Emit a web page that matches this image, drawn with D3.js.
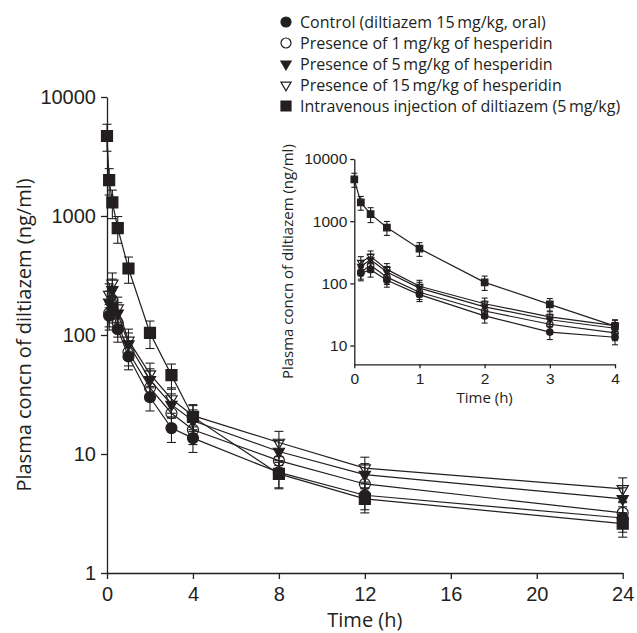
<!DOCTYPE html>
<html>
<head>
<meta charset="utf-8">
<script src="https://cdn.jsdelivr.net/npm/d3@7"></script>
<style>
  body { margin: 0; background: #fff; }
  svg { display: block; font-family: "Open Sans", sans-serif; }
</style>
</head>
<body>
<script>
const WIDTH = 637;
const HEIGHT = 633;

// sampling times (h)
const oralTimes = [0.1, 0.25, 0.5, 1, 2, 3, 4, 8, 12, 24];
const ivTimes = [0, 0.1, 0.25, 0.5, 1, 2, 3, 4, 8, 12, 24];

// mean plasma concn (ng/ml) and SD
const controlMean = [145, 166, 112, 66, 30, 16.5, 13.6, 7.0, 4.5, 2.9];
const controlSD = [35, 40, 25, 15, 7, 4, 3.3, 1.8, 1.1, 0.7];
const hesp1Mean = [152, 195, 126, 72, 36, 22, 16, 8.8, 5.6, 3.2];
const hesp1SD = [35, 45, 30, 17, 8, 5, 4, 2.0, 1.3, 0.8];
const hesp5Mean = [188, 240, 152, 84, 42, 26, 19, 10.5, 6.7, 4.2];
const hesp5SD = [45, 55, 35, 20, 10, 6, 4.5, 2.5, 1.6, 1.0];
const hesp15Mean = [219, 272, 168, 90, 47, 29, 21, 12.5, 7.6, 5.1];
const hesp15SD = [50, 60, 40, 22, 11, 7, 5, 3.0, 1.8, 1.2];
const ivMean = [4700, 2000, 1300, 790, 362, 104, 46, 20.5, 6.8, 4.2, 2.6];
const ivSD = [1200, 500, 350, 200, 90, 27, 11, 5, 1.7, 1.0, 0.6];

const seriesNames = [
  "Control (diltiazem 15\u2009mg/kg, oral)",
  "Presence of 1\u2009mg/kg of hesperidin",
  "Presence of 5\u2009mg/kg of hesperidin",
  "Presence of 15\u2009mg/kg of hesperidin",
  "Intravenous injection of diltiazem (5\u2009mg/kg)"
];
const seriesShapes = ["circle", "circle", "triangle", "triangle", "square"];
const seriesFilled = [true, false, true, false, true];

const mainXTicks = [0, 4, 8, 12, 16, 20, 24];
const mainYTicks = [1, 10, 100, 1000, 10000];
const insetXTicks = [0, 1, 2, 3, 4];
const insetYTicks = [10, 100, 1000, 10000];

const INK = "#231f20";

const series = [
  [oralTimes, controlMean, controlSD],
  [oralTimes, hesp1Mean, hesp1SD],
  [oralTimes, hesp5Mean, hesp5SD],
  [oralTimes, hesp15Mean, hesp15SD],
  [ivTimes, ivMean, ivSD]
].map(([t, m, s], i) => ({
  name: seriesNames[i],
  shape: seriesShapes[i],
  filled: seriesFilled[i],
  points: t.map((time, j) => ({ time, value: m[j], sd: s[j] }))
}));

const svg = d3.select("body").append("svg")
    .attr("width", WIDTH)
    .attr("height", HEIGHT);

function markerPath(shape, size) {
  if (shape === "circle") return d3.symbol(d3.symbolCircle, size * size * Math.PI / 4)();
  if (shape === "square") return d3.symbol(d3.symbolSquare, size * size)();
  // triangle, flipped to point down where it's used
  return d3.symbol(d3.symbolTriangle, size * size * 0.45)();
}

function drawPanel(g, x, y, opts) {
  const xAxis = d3.axisBottom(x)
      .tickValues(opts.xTicks)
      .tickFormat(d3.format("d"))
      .tickSizeInner(opts.tick)
      .tickSizeOuter(0)
      .tickPadding(opts.xpad);
  const yAxis = d3.axisLeft(y)
      .tickValues(opts.yTicks)
      .tickFormat(d3.format("d"))
      .tickSizeInner(opts.tick)
      .tickSizeOuter(0)
      .tickPadding(opts.ypad);

  g.append("g")
      .attr("transform", `translate(0,${y.range()[0]})`)
      .call(xAxis)
      .call(a => a.selectAll("text").attr("font-size", opts.font).attr("fill", INK).attr("font-family", null))
      .call(a => a.selectAll("line,path").attr("stroke", INK).attr("stroke-width", 1.3));

  g.append("g")
      .attr("transform", `translate(${x.range()[0]},0)`)
      .call(yAxis)
      .call(a => a.selectAll("text").attr("font-size", opts.font).attr("fill", INK).attr("font-family", null))
      .call(a => a.selectAll("line,path").attr("stroke", INK).attr("stroke-width", 1.3));

  const line = d3.line().x(d => x(d.time)).y(d => y(d.value));

  series.forEach(s => {
    const pts = s.points.filter(d => d.time <= opts.maxTime);
    const sg = g.append("g");
    sg.append("path")
        .attr("d", line(pts))
        .attr("fill", "none")
        .attr("stroke", INK)
        .attr("stroke-width", 1.2);

    const eb = sg.selectAll(".err").data(pts).join("g");
    eb.append("line")
        .attr("x1", d => x(d.time)).attr("x2", d => x(d.time))
        .attr("y1", d => y(d.value + d.sd)).attr("y2", d => y(Math.max(d.value - d.sd, 0.01)))
        .attr("stroke", INK).attr("stroke-width", 1.1);
    [1, -1].forEach(sign => {
      eb.append("line")
          .attr("x1", d => x(d.time) - opts.cap).attr("x2", d => x(d.time) + opts.cap)
          .attr("y1", d => y(d.value + sign * d.sd)).attr("y2", d => y(d.value + sign * d.sd))
          .attr("stroke", INK).attr("stroke-width", 1.1);
    });

    sg.selectAll(".mk").data(pts).join("path")
        .attr("d", markerPath(s.shape, opts.marker))
        .attr("transform", d => `translate(${x(d.time)},${y(d.value)})` + (s.shape === "triangle" ? " rotate(180)" : ""))
        .attr("fill", s.filled ? INK : "none")
        .attr("stroke", INK)
        .attr("stroke-width", 1.2);
  });
}

// main chart
const x = d3.scaleLinear([0, 24], [107, 622.7]);
const y = d3.scaleLog([1, 10000], [573, 97]);
const main = svg.append("g");
drawPanel(main, x, y, {
  xTicks: mainXTicks, yTicks: mainYTicks, maxTime: 24,
  font: 20, tick: 6, xpad: 8, ypad: 5, cap: 4.5, marker: 11
});
main.append("text")
    .attr("x", (x.range()[0] + x.range()[1]) / 2)
    .attr("y", 627)
    .attr("text-anchor", "middle")
    .attr("font-size", 20)
    .attr("fill", INK)
    .text("Time (h)");
main.append("text")
    .attr("transform", `translate(31,${(y.range()[0] + y.range()[1]) / 2}) rotate(-90)`)
    .attr("text-anchor", "middle")
    .attr("font-size", 20)
    .attr("fill", INK)
    .text("Plasma concn of diltiazem (ng/ml)");

// inset
const xi = d3.scaleLinear([0, 4], [354.3, 615]);
const yi = d3.scaleLog([5, 10000], [364.3, 159]);
const inset = svg.append("g");
drawPanel(inset, xi, yi, {
  xTicks: insetXTicks, yTicks: insetYTicks, maxTime: 4,
  font: 15.5, tick: 4, xpad: 5, ypad: 3, cap: 3, marker: 6.5
});
inset.append("text")
    .attr("x", (xi.range()[0] + xi.range()[1]) / 2)
    .attr("y", 403)
    .attr("text-anchor", "middle")
    .attr("font-size", 15)
    .attr("fill", INK)
    .text("Time (h)");
inset.append("text")
    .attr("transform", `translate(293,${(yi.range()[0] + yi.range()[1]) / 2}) rotate(-90)`)
    .attr("text-anchor", "middle")
    .attr("font-size", 15)
    .attr("fill", INK)
    .text("Plasma concn of diltiazem (ng/ml)");

// legend
const legend = svg.append("g").attr("transform", "translate(286,22)");
const row = legend.selectAll("g").data(series).join("g")
    .attr("transform", (d, i) => `translate(0,${i * 21})`);
row.append("path")
    .attr("d", d => markerPath(d.shape, 10))
    .attr("transform", d => d.shape === "triangle" ? "rotate(180)" : null)
    .attr("fill", d => d.filled ? INK : "none")
    .attr("stroke", INK)
    .attr("stroke-width", 1.2);
row.append("text")
    .attr("x", 14)
    .attr("dy", "0.35em")
    .attr("font-size", 16)
    .attr("fill", INK)
    .text(d => d.name);
</script>
</body>
</html>
